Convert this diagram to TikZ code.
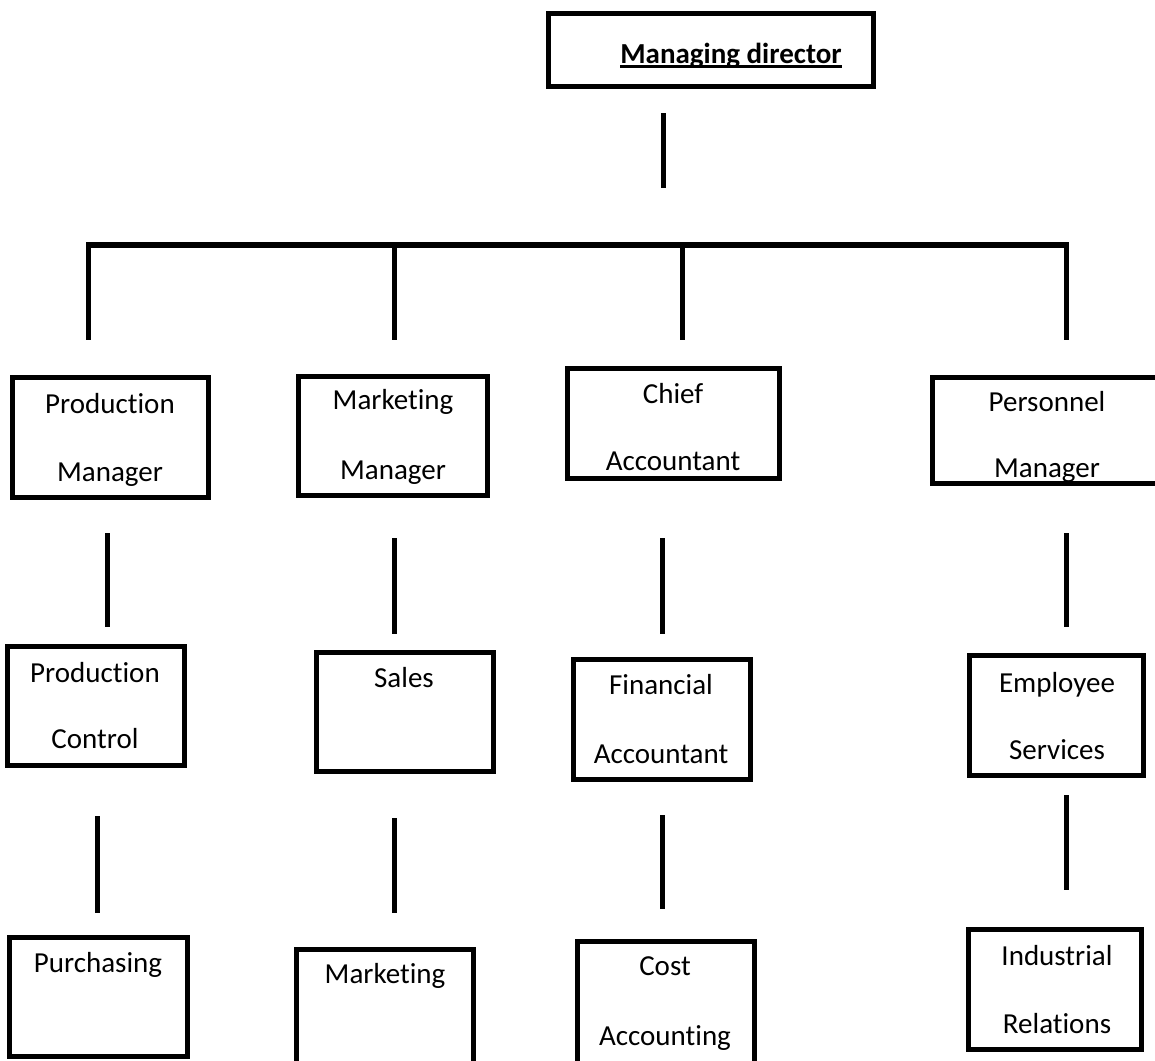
\documentclass[tikz,border=0pt]{standalone}
\usepackage{fontspec}
\setmainfont{Carlito}[Ligatures=NoCommon]
\usetikzlibrary{fit}
\begin{document}
\begin{tikzpicture}[x=1pt,y=-1pt,
  box/.style={draw, line width=5pt, inner sep=0pt},
  lbl/.style={anchor=base, inner sep=0pt, font=\fontsize{29}{34}\selectfont},
  conn/.style={line width=5pt},
  bar/.style={line width=6pt}]
\clip (0,0) rectangle (1155,1060);
\fill[white] (0,0) rectangle (1155,1060);

% ---- texts ----
\node[lbl, font=\fontsize{29}{34}\selectfont\bfseries] (mdt) at (731,63) {Managing director};
\draw[line width=2.4pt] ([yshift=-3.5pt]mdt.base west) -- ([yshift=-3.5pt]mdt.base east);

\node[lbl] (pm1) at (110,413) {Production};
\node[lbl] (pm2) at (110,481) {Manager};
\node[lbl] (mm1) at (393,409) {Marketing};
\node[lbl] (mm2) at (393,479) {Manager};
\node[lbl] (ca1) at (673,403) {Chief};
\node[lbl] (ca2) at (673,470) {Accountant};
\node[lbl] (pe1) at (1047,411) {Personnel};
\node[lbl] (pe2) at (1047,477) {Manager};

\node[lbl] (pc1) at (95,682) {Production};
\node[lbl] (pc2) at (95,748) {Control};
\node[lbl] (sa1) at (404,687) {Sales};
\node[lbl] (fa1) at (661,694) {Financial};
\node[lbl] (fa2) at (661,763) {Accountant};
\node[lbl] (es1) at (1057,692) {Employee};
\node[lbl] (es2) at (1057,759) {Services};

\node[lbl] (pu1) at (98,972) {Purchasing};
\node[lbl] (mk1) at (385,983) {Marketing};
\node[lbl] (co1) at (665,975) {Cost};
\node[lbl] (co2) at (665,1045) {Accounting};
\node[lbl] (ir1) at (1057,965) {Industrial};
\node[lbl] (ir2) at (1057,1033) {Relations};

% ---- boxes ----
\node[box, fit={(548,13) (873,86)}] (md) {};
\node[box, fit={(12,377) (208,497)}] (pm) {};
\node[box, fit={(298,376) (487,495)}] (mm) {};
\node[box, fit={(567,368) (779,478)}] (ca) {};
\node[box, fit={(932,377) (1162,483)}] (pe) {};
\node[box, fit={(7,646) (184,765)}] (pc) {};
\node[box, fit={(316,652) (493,771)}] (sa) {};
\node[box, fit={(573,659) (750,779)}] (fa) {};
\node[box, fit={(969,655) (1143,775)}] (es) {};
\node[box, fit={(9,937) (187,1056)}] (pu) {};
\node[box, fit={(296,949) (473,1075)}] (mk) {};
\node[box, fit={(577,941) (754,1070)}] (co) {};
\node[box, fit={(968,929) (1141,1049)}] (ir) {};

% ---- connector end points ----
\coordinate (mdA) at (663,113);  \coordinate (mdB) at (663,188);
\coordinate (barL) at (86,245);  \coordinate (barR) at (1069,245);
\coordinate (d1a) at (88,243);   \coordinate (d1b) at (88,340);
\coordinate (d2a) at (394,243);  \coordinate (d2b) at (394,340);
\coordinate (d3a) at (682,243);  \coordinate (d3b) at (682,340);
\coordinate (d4a) at (1066,243); \coordinate (d4b) at (1066,340);
\coordinate (e1a) at (107,533);  \coordinate (e1b) at (107,627);
\coordinate (e2a) at (394,538);  \coordinate (e2b) at (394,634);
\coordinate (e3a) at (662,538);  \coordinate (e3b) at (662,634);
\coordinate (e4a) at (1066,533); \coordinate (e4b) at (1066,627);
\coordinate (f1a) at (97,816);   \coordinate (f1b) at (97,913);
\coordinate (f2a) at (394,818);  \coordinate (f2b) at (394,913);
\coordinate (f3a) at (662,815);  \coordinate (f3b) at (662,909);
\coordinate (f4a) at (1066,795); \coordinate (f4b) at (1066,890);

% ---- connectors ----
\draw[conn] (mdA) -- (mdB);
\draw[bar] (barL) -- (barR);
\draw[conn] (d1a) -- (d1b);
\draw[conn] (d2a) -- (d2b);
\draw[conn] (d3a) -- (d3b);
\draw[conn] (d4a) -- (d4b);
\draw[conn] (e1a) -- (e1b);
\draw[conn] (e2a) -- (e2b);
\draw[conn] (e3a) -- (e3b);
\draw[conn] (e4a) -- (e4b);
\draw[conn] (f1a) -- (f1b);
\draw[conn] (f2a) -- (f2b);
\draw[conn] (f3a) -- (f3b);
\draw[conn] (f4a) -- (f4b);
\end{tikzpicture}
\end{document}
